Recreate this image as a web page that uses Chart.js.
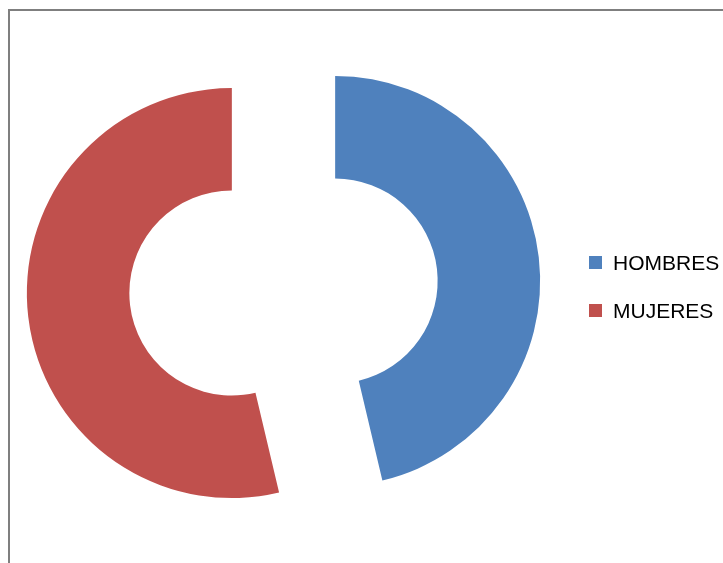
<!DOCTYPE html>
<html>
<head>
<meta charset="utf-8">
<script src="https://cdn.jsdelivr.net/npm/chart.js@4/dist/chart.umd.min.js"></script>
<style>
  body { margin: 0; background: #fff; overflow: hidden; }
  #wrap { position: relative; width: 723px; height: 563px; overflow: hidden; }
  #frame { position: absolute; left: 8px; top: 9px; width: 800px; height: 700px; border: 2px solid #7f7f7f; }
  #chart { position: absolute; left: 0; top: 0; }
  .item { position: absolute; left: 589px; font-family: "Liberation Sans", Arial, sans-serif; font-size: 21px; color: #000; line-height: 21px; }
  .item span { position: absolute; left: 0; top: 4px; width: 13px; height: 13px; }
  .item b { position: absolute; left: 24px; top: 0; font-weight: normal; white-space: nowrap; }
</style>
</head>
<body>
<div id="wrap">
  <div id="frame"></div>
  <canvas id="chart" width="723" height="563"></canvas>
  <div id="legend"></div>
</div>
<script>
const labels = ['HOMBRES', 'MUJERES'];
const values = [46.3, 53.7];
const colors = ['#4F81BD', '#C0504D'];

const EXPLODE = 52;

// pull each slice out along its bisector (Excel-style exploded doughnut)
const explode = {
    id: 'explode',
    beforeDatasetDraw(chart, args) {
        const ctx = chart.ctx;
        args.meta.data.forEach(arc => {
            const mid = (arc.startAngle + arc.endAngle) / 2;
            ctx.save();
            ctx.translate(Math.cos(mid) * EXPLODE, Math.sin(mid) * EXPLODE);
            arc.draw(ctx);
            ctx.restore();
        });
        return false;
    }
};

new Chart(document.getElementById('chart'), {
    type: 'doughnut',
    data: {
        labels: labels,
        datasets: [{
            data: values,
            backgroundColor: colors,
            borderWidth: 0
        }]
    },
    options: {
        responsive: false,
        animation: false,
        radius: 205,
        cutout: '50%',
        layout: { padding: { left: 0, right: 156, top: 11, bottom: 0 } },
        plugins: {
            legend: { display: false },
            tooltip: { enabled: false }
        }
    },
    plugins: [explode]
});

// legend
const legend = document.getElementById('legend');
labels.forEach((l, i) => {
    const d = document.createElement('div');
    d.className = 'item';
    d.style.top = (252 + i * 48) + 'px';
    d.innerHTML = '<span style="background:' + colors[i] + '"></span><b>' + l + '</b>';
    legend.appendChild(d);
});
</script>
</body>
</html>
